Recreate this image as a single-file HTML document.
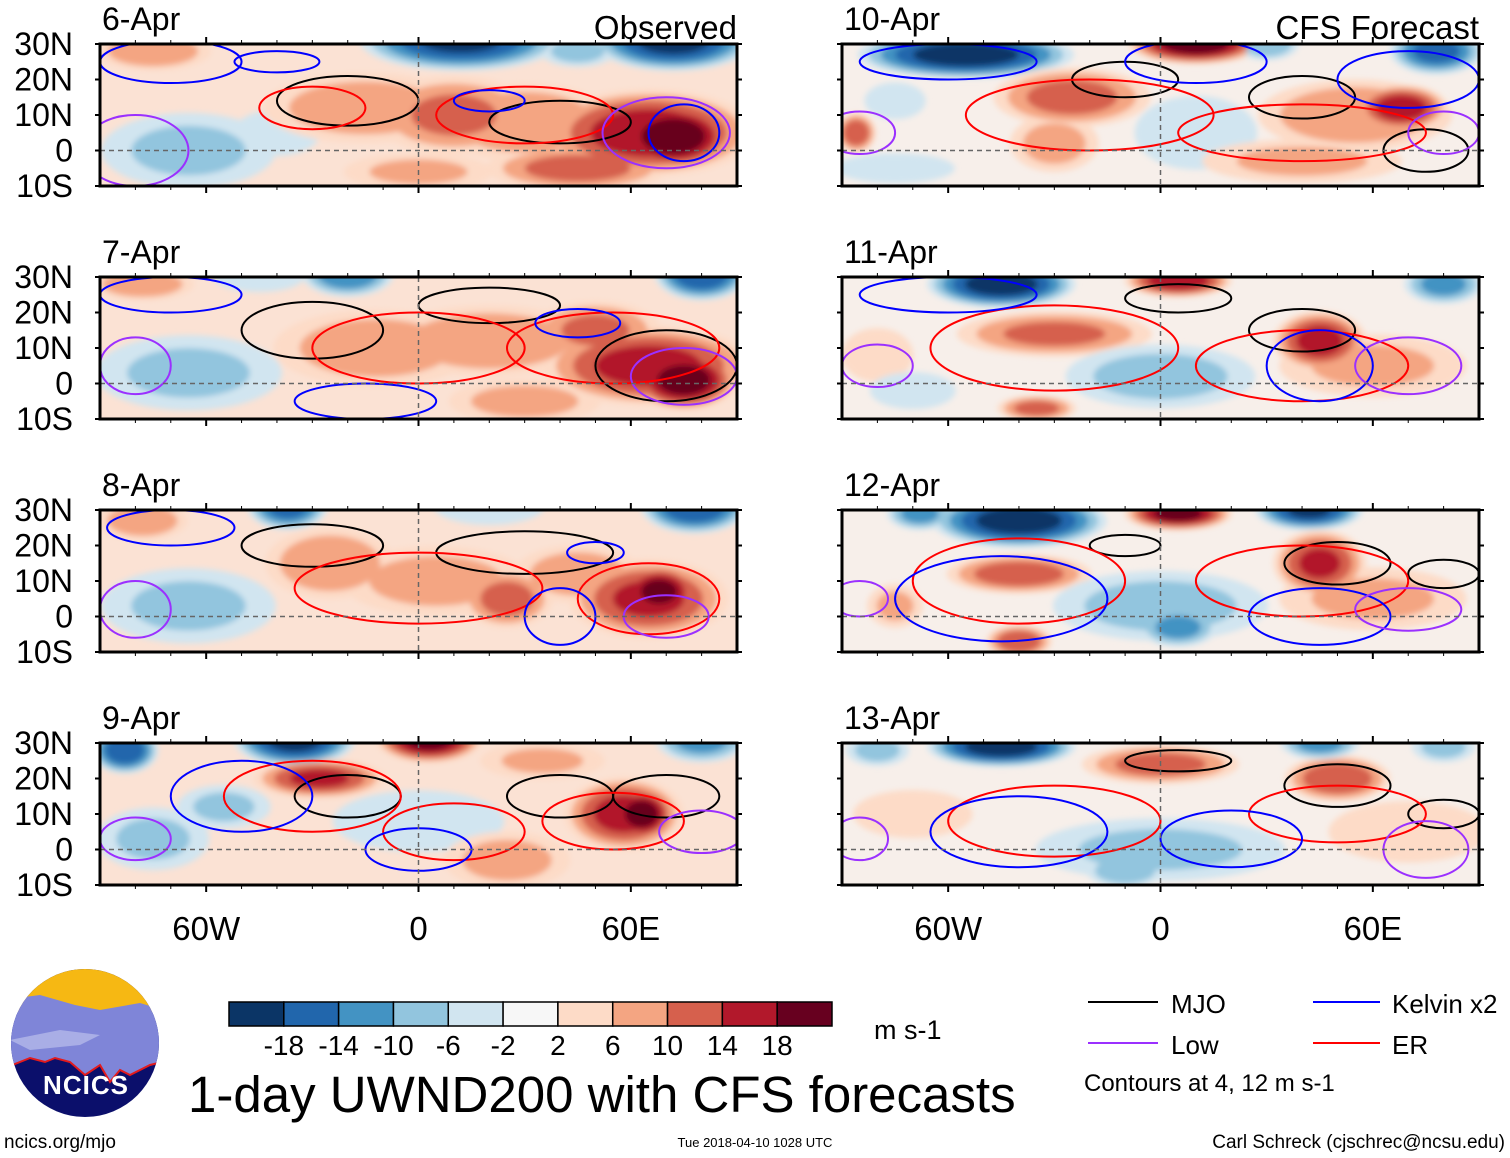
<!DOCTYPE html>
<html><head><meta charset="utf-8"><style>
html,body{margin:0;padding:0;background:#fff;}
svg{display:block;font-family:"Liberation Sans",sans-serif;}
</style></head><body>
<svg id="chart" width="1510" height="1158" viewBox="0 0 1510 1158" xmlns="http://www.w3.org/2000/svg">
<defs>
<filter id="blur" x="-30%" y="-60%" width="160%" height="220%"><feGaussianBlur stdDeviation="3"/></filter>
</defs>
<g id="panels"></g>

<g>
<clipPath id="logoclip"><circle cx="85" cy="1043" r="74"/></clipPath>
<g clip-path="url(#logoclip)">
<rect x="0" y="960" width="170" height="170" fill="#0b0f6b"/>
<rect x="0" y="960" width="170" height="52" fill="#f6b813"/>
<path d="M0 1000 L40 995 L75 1005 L100 1010 L140 1003 L170 1012 L170 1060 L150 1065 L130 1075 L120 1070 L110 1082 L100 1065 L85 1075 L70 1062 L55 1058 L45 1062 L30 1058 L10 1066 L0 1068 Z" fill="#7f85d8"/>
<path d="M10 1040 L60 1030 L100 1035 L80 1045 L30 1050 Z" fill="#a9aee6"/>
<path d="M0 1068 L10 1066 L30 1058 L45 1062 L55 1058 L70 1062 L85 1075 L100 1065 L110 1082 L120 1070 L130 1075 L150 1065 L170 1060" fill="none" stroke="#e31a1c" stroke-width="2"/>
</g>
<text x="86" y="1094" text-anchor="middle" font-size="26" font-weight="bold" fill="#fff" letter-spacing="1">NCICS</text>
</g>

<g id="colorbar"></g>
<text x="874" y="1039" font-size="27">m s-1</text>
<text x="188" y="1112" font-size="51">1-day UWND200 with CFS forecasts</text>

<g>
<line x1="1088" y1="1002" x2="1158" y2="1002" stroke="#000" stroke-width="2"/>
<text x="1171" y="1013" font-size="26">MJO</text>
<line x1="1313" y1="1002" x2="1380" y2="1002" stroke="#0000ff" stroke-width="2"/>
<text x="1392" y="1013" font-size="26">Kelvin x2</text>
<line x1="1088" y1="1043" x2="1158" y2="1043" stroke="#9b30ff" stroke-width="2"/>
<text x="1171" y="1054" font-size="26">Low</text>
<line x1="1313" y1="1043" x2="1380" y2="1043" stroke="#ff0000" stroke-width="2"/>
<text x="1392" y="1054" font-size="26">ER</text>
<text x="1084" y="1091" font-size="24">Contours at 4, 12 m s-1</text>
</g>
<text x="4" y="1148" font-size="19">ncics.org/mjo</text>
<text x="755" y="1147" font-size="13" text-anchor="middle">Tue 2018-04-10 1028 UTC</text>
<text x="1505" y="1148" font-size="19" text-anchor="end">Carl Schreck (cjschrec@ncsu.edu)</text>
</svg>
<script>
// ---- data ----
const panelTitles = ["6-Apr","7-Apr","8-Apr","9-Apr","10-Apr","11-Apr","12-Apr","13-Apr"];
const latTicks = [30,20,10,0,-10];
const latTickLabels = ["30N","20N","10N","0","10S"];
const lonTicks = [-60,0,60];
const lonTickLabels = ["60W","0","60E"];
const cbLevels = [-18,-14,-10,-6,-2,2,6,10,14,18];
const cbColors = ["#0b3566","#2166ac","#4393c3","#92c5de","#d1e5f0","#f7f7f7","#fddbc7","#f4a582","#d6604d","#b2182b","#67001f"];
// anomaly blobs per panel: [lon, lat, halfWidthDeg, halfHeightDeg, peak value m/s]
const blobs6 = [[-75,28,18,6,10],[-65,0,28,12,-7],[-40,5,15,8,-4],[-15,12,32,11,9],[10,10,25,12,11],[30,8,28,12,10],[65,5,32,13,17],[72,4,18,10,22],[12,31,30,9,-19],[72,31,24,9,-20],[45,28,12,5,-8],[0,-6,24,6,7],[45,-5,28,7,12]];
const blobs7 = [[-78,28,16,5,10],[-65,3,30,12,-7],[-20,31,14,7,-14],[80,31,14,8,-18],[-12,10,32,12,9],[20,12,32,11,10],[50,15,20,9,11],[65,5,32,12,16],[75,1,16,9,21],[-45,30,15,5,-5],[30,-5,24,7,8]];
const blobs8 = [[-78,27,14,6,10],[-65,3,28,12,-7],[-37,31,12,7,-16],[78,31,16,8,-18],[-25,15,20,11,10],[5,10,30,11,8],[25,5,14,9,12],[45,12,20,9,9],[65,5,24,12,15],[68,7,12,8,20],[20,31,18,6,-6]];
const blobs9 = [[-83,28,10,7,-18],[-35,31,18,8,-20],[3,31,16,7,20],[-28,20,20,6,15],[-75,3,18,10,-7],[0,8,28,10,-6],[25,-3,20,9,8],[58,10,18,11,16],[63,10,10,8,21],[35,25,20,6,7],[-55,12,15,7,-7],[80,31,14,7,-12]];
const blobs10 = [[-55,27,32,7,-21],[-75,14,10,6,-6],[10,30,20,6,21],[30,30,10,5,-10],[78,28,14,7,-16],[-25,15,24,9,12],[-30,2,14,9,8],[10,5,20,12,-6],[55,10,30,11,10],[68,12,14,7,17],[-75,-5,20,5,-5],[-86,5,6,6,14],[40,-3,32,7,7]];
const blobs11 = [[-45,28,22,7,-21],[5,29,16,5,18],[80,28,12,6,-12],[-30,14,30,7,11],[45,12,14,9,16],[0,2,30,10,-8],[60,5,30,10,7],[-80,8,12,9,5],[-70,-2,14,6,-6],[-35,-7,12,4,12]];
const blobs12 = [[-40,27,26,8,-21],[5,29,16,5,20],[42,30,16,6,-19],[-40,12,22,6,13],[45,15,14,10,15],[0,3,34,11,-8],[5,-3,12,6,-12],[60,5,30,10,7],[-75,3,9,7,7],[-40,-7,10,5,14],[-68,29,10,5,-12]];
const blobs13 = [[-45,29,22,6,-21],[-80,28,10,5,-8],[0,24,24,6,12],[50,20,16,7,14],[45,30,12,5,-12],[0,0,40,10,-7],[-10,-6,12,5,-10],[-70,10,20,8,5],[70,5,26,10,6],[80,29,10,5,-8]];
const allBlobs = [blobs6,blobs7,blobs8,blobs9,blobs10,blobs11,blobs12,blobs13];
// contour ellipses per panel: [lon, lat, rxDeg, ryDeg, type]  type: m=MJO k=Kelvin l=Low e=ER
const contours6 = [[-20,14,20,7,"m"],[40,8,20,6,"m"],[-30,12,15,6,"e"],[30,10,25,8,"e"],[-70,25,20,6,"k"],[-40,25,12,3,"k"],[20,14,10,3,"k"],[70,5,18,10,"l"],[75,5,10,8,"k"],[-80,0,15,10,"l"]];
const contours7 = [[-30,15,20,8,"m"],[20,22,20,5,"m"],[70,5,20,10,"m"],[0,10,30,10,"e"],[55,10,30,10,"e"],[-70,25,20,5,"k"],[45,17,12,4,"k"],[-80,5,10,8,"l"],[75,2,15,8,"l"],[-15,-5,20,5,"k"]];
const contours8 = [[-30,20,20,6,"m"],[30,18,25,6,"m"],[65,5,20,10,"e"],[0,8,35,10,"e"],[-70,25,18,5,"k"],[50,18,8,3,"k"],[-80,2,10,8,"l"],[70,0,12,6,"l"],[40,0,10,8,"k"]];
const contours9 = [[-20,15,15,6,"m"],[40,15,15,6,"m"],[70,15,15,6,"m"],[-30,15,25,10,"e"],[10,5,20,8,"e"],[55,8,20,8,"e"],[-50,15,20,10,"k"],[0,0,15,6,"k"],[-80,3,10,6,"l"],[80,5,12,6,"l"]];
const contours10 = [[-10,20,15,5,"m"],[40,15,15,6,"m"],[75,0,12,6,"m"],[-20,10,35,10,"e"],[40,5,35,8,"e"],[-60,25,25,5,"k"],[10,25,20,6,"k"],[70,20,20,8,"k"],[-85,5,10,6,"l"],[80,5,10,6,"l"]];
const contours11 = [[5,24,15,4,"m"],[40,15,15,6,"m"],[-30,10,35,12,"e"],[40,5,30,10,"e"],[-60,25,25,5,"k"],[45,5,15,10,"k"],[70,5,15,8,"l"],[-80,5,10,6,"l"]];
const contours12 = [[-10,20,10,3,"m"],[50,15,15,6,"m"],[80,12,10,4,"m"],[-40,10,30,12,"e"],[40,10,30,10,"e"],[-45,5,30,12,"k"],[45,0,20,8,"k"],[70,2,15,6,"l"],[-85,5,8,5,"l"]];
const contours13 = [[5,25,15,3,"m"],[50,18,15,6,"m"],[80,10,10,4,"m"],[-30,8,30,10,"e"],[50,10,25,8,"e"],[-40,5,25,10,"k"],[20,3,20,8,"k"],[75,0,12,8,"l"],[-85,3,8,6,"l"]];
const allContours = [contours6,contours7,contours8,contours9,contours10,contours11,contours12,contours13];

// ---- layout ----
const NS="http://www.w3.org/2000/svg";
const panelLeft=[100,842], panelWidth=637, rowTops=[44,277,510,743], panelHeight=142;
const lonMin=-90, lonMax=90, latMin=-10, latMax=30;
function mk(tag,attrs,parent){const e=document.createElementNS(NS,tag);for(const k in attrs)e.setAttribute(k,attrs[k]);parent.appendChild(e);return e;}
function colorFor(v){let i=0;while(i<cbLevels.length&&v>cbLevels[i])i++;return cbColors[i];}
const lineColors={m:"#000000",k:"#0000ff",l:"#9b30ff",e:"#ff0000"};
const stepLevels=[2,6,10,14,18];
const root=document.getElementById("panels");
for(let p=0;p<8;p++){
  const col=p<4?0:1,row=p%4;
  const x0=panelLeft[col],y0=rowTops[row];
  const xs=lon=>x0+(lon-lonMin)/(lonMax-lonMin)*panelWidth;
  const ys=lat=>y0+(latMax-lat)/(latMax-latMin)*panelHeight;
  const g=mk("g",{},root);
  
  
  const cid="clip"+p;
  const cp=mk("clipPath",{id:cid},g);mk("rect",{x:x0,y:y0,width:panelWidth,height:panelHeight},cp);
  const inner=mk("g",{"clip-path":"url(#"+cid+")"},g);
  mk("rect",{x:x0,y:y0,width:panelWidth,height:panelHeight,fill:col===0?"#fbe2d4":"#f7efea"},inner);
  const bl=mk("g",{filter:"url(#blur)"},inner);
  // draw all bands ordered by level so stronger cores sit on top
  stepLevels.forEach(lv=>{
    allBlobs[p].forEach(b=>{
      const a=Math.abs(b[4]),sgn=Math.sign(b[4]);
      if(a<=lv)return;
      const f=Math.sqrt(1-lv/(a+2));
      const e=mk("ellipse",{cx:xs(b[0]),cy:ys(b[1]),rx:f*b[2]*panelWidth/180,ry:f*b[3]*panelHeight/40,fill:colorFor(sgn*(lv+0.5))},bl);
      
      
    });
  });
  allContours[p].forEach(c=>{
    const e=mk("ellipse",{cx:xs(c[0]),cy:ys(c[1]),rx:c[2]*panelWidth/180,ry:c[3]*panelHeight/40,fill:"none",stroke:lineColors[c[4]],"stroke-width":2},inner);
    
    
  });
  mk("line",{x1:x0,y1:ys(0),x2:x0+panelWidth,y2:ys(0),stroke:"#666","stroke-width":1.5,"stroke-dasharray":"5,4"},inner);
  mk("line",{x1:xs(0),y1:y0,x2:xs(0),y2:y0+panelHeight,stroke:"#666","stroke-width":1.5,"stroke-dasharray":"5,4"},inner);
  mk("rect",{x:x0,y:y0,width:panelWidth,height:panelHeight,fill:"none",stroke:"#000","stroke-width":3},g);
  for(let lon=-80;lon<=80;lon+=10){
    const major=lon%60===0,L=major?7:4;
    mk("line",{x1:xs(lon),y1:y0,x2:xs(lon),y2:y0-L,stroke:"#000","stroke-width":major?2:1},g);
    mk("line",{x1:xs(lon),y1:y0+panelHeight,x2:xs(lon),y2:y0+panelHeight+L,stroke:"#000","stroke-width":major?2:1},g);
  }
  latTicks.forEach(lat=>{
    mk("line",{x1:x0,y1:ys(lat),x2:x0-5,y2:ys(lat),stroke:"#000","stroke-width":2},g);
    mk("line",{x1:x0+panelWidth,y1:ys(lat),x2:x0+panelWidth+5,y2:ys(lat),stroke:"#000","stroke-width":2},g);
  });
  const t=mk("text",{x:x0+2,y:y0-14,"font-size":32},g);t.textContent=panelTitles[p];
  
  
  if(row===0){
    const h=mk("text",{x:x0+panelWidth,y:y0-5,"font-size":33,"text-anchor":"end"},g);
    h.textContent=col===0?"Observed":"CFS Forecast";
    
    
  }
  if(col===0){
    latTicks.forEach((lat,i)=>{
      const l=mk("text",{x:73,y:ys(lat)+11,"font-size":32,"text-anchor":"end"},g);l.textContent=latTickLabels[i];
      
      
    });
  }
  if(row===3){
    lonTicks.forEach((lon,i)=>{
      const l=mk("text",{x:xs(lon),y:940,"font-size":33,"text-anchor":"middle"},g);l.textContent=lonTickLabels[i];
      
      
    });
  }
}
// colorbar
const cb=document.getElementById("colorbar");
const cbX=229,cbY=1002,cbW=603,cbH=24,bw=cbW/cbColors.length;
cbColors.forEach((c,i)=>{
  const r=mk("rect",{x:cbX+i*bw,y:cbY,width:bw,height:cbH,fill:c,stroke:"#000","stroke-width":1.5},cb);
  
  
});
cbLevels.forEach((v,i)=>{
  const t=mk("text",{x:cbX+(i+1)*bw,y:1055,"font-size":28,"text-anchor":"middle"},cb);
  t.textContent=String(v);
  
  
});
</script>
</body></html>
